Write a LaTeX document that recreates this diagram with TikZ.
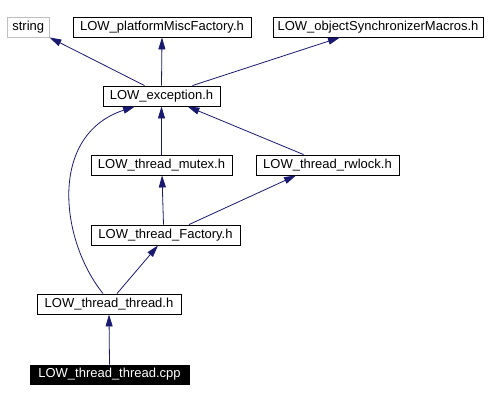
\documentclass[tikz,border=0pt]{standalone}
\usepackage{fontspec}
\setmainfont{Liberation Sans}
\usetikzlibrary{arrows.meta}
\definecolor{edgeblue}{RGB}{25,25,112}
\definecolor{lightgray}{RGB}{191,191,191}
\tikzset{
  filebox/.style={draw=black, line width=0.9pt, fill=white, minimum height=20pt, inner sep=0pt,
    font=\fontsize{13pt}{15pt}\selectfont, text=black},
  extbox/.style={filebox, draw=lightgray},
  mainbox/.style={filebox, fill=black, text=white, minimum height=19pt},
  dep/.style={draw=edgeblue, line width=0.8pt, -{Triangle[length=12pt,width=7pt]}},
}
\begin{document}
\begin{tikzpicture}[x=1pt,y=-1pt]
\useasboundingbox (0,0) rectangle (492,401);
\node[extbox, minimum width=41.5pt] (string) at (28.25,27) {string};
\node[filebox, minimum width=178pt] (platform) at (162,27) {LOW\_platformMiscFactory.h};
\node[filebox, minimum width=210pt] (objsync) at (378,27) {LOW\_objectSynchronizerMacros.h};
\node[filebox, minimum width=117pt] (exception) at (161.5,96) {LOW\_exception.h};
\node[filebox, minimum width=141pt] (mutex) at (161.5,165) {LOW\_thread\_mutex.h};
\node[filebox, minimum width=143pt] (rwlock) at (327.5,165) {LOW\_thread\_rwlock.h};
\node[filebox, minimum width=149pt] (factory) at (165.5,235) {LOW\_thread\_Factory.h};
\node[filebox, minimum width=144pt] (threadh) at (109,304) {LOW\_thread\_thread.h};
\node[mainbox, minimum width=159pt] (cpp) at (109.5,374.5) {LOW\_thread\_thread.cpp};

\draw[dep] ([xshift=-17pt]exception.north) -- (string.south east);
\draw[dep] (exception.north) -- (platform.south);
\draw[dep] ([xshift=31pt]exception.north) -- ([xshift=-38pt]objsync.south);
\draw[dep] (mutex.north) -- (exception.south);
\draw[dep] ([xshift=-24pt]rwlock.north) -- ([xshift=26pt]exception.south);
\draw[dep] ([xshift=-2pt]factory.north) -- ([xshift=0.5pt]mutex.south);
\draw[dep] ([xshift=23.5pt]factory.north) -- ([xshift=-31.5pt]rwlock.south);
\draw[dep] ([xshift=8pt]threadh.north) -- ([xshift=-7.5pt]factory.south);
\draw[dep] ([xshift=-6pt]threadh.north) .. controls (60,240) and (48,135) .. ([xshift=-26.5pt]exception.south);
\draw[dep] (cpp.north) -- (threadh.south);
\end{tikzpicture}
\end{document}
